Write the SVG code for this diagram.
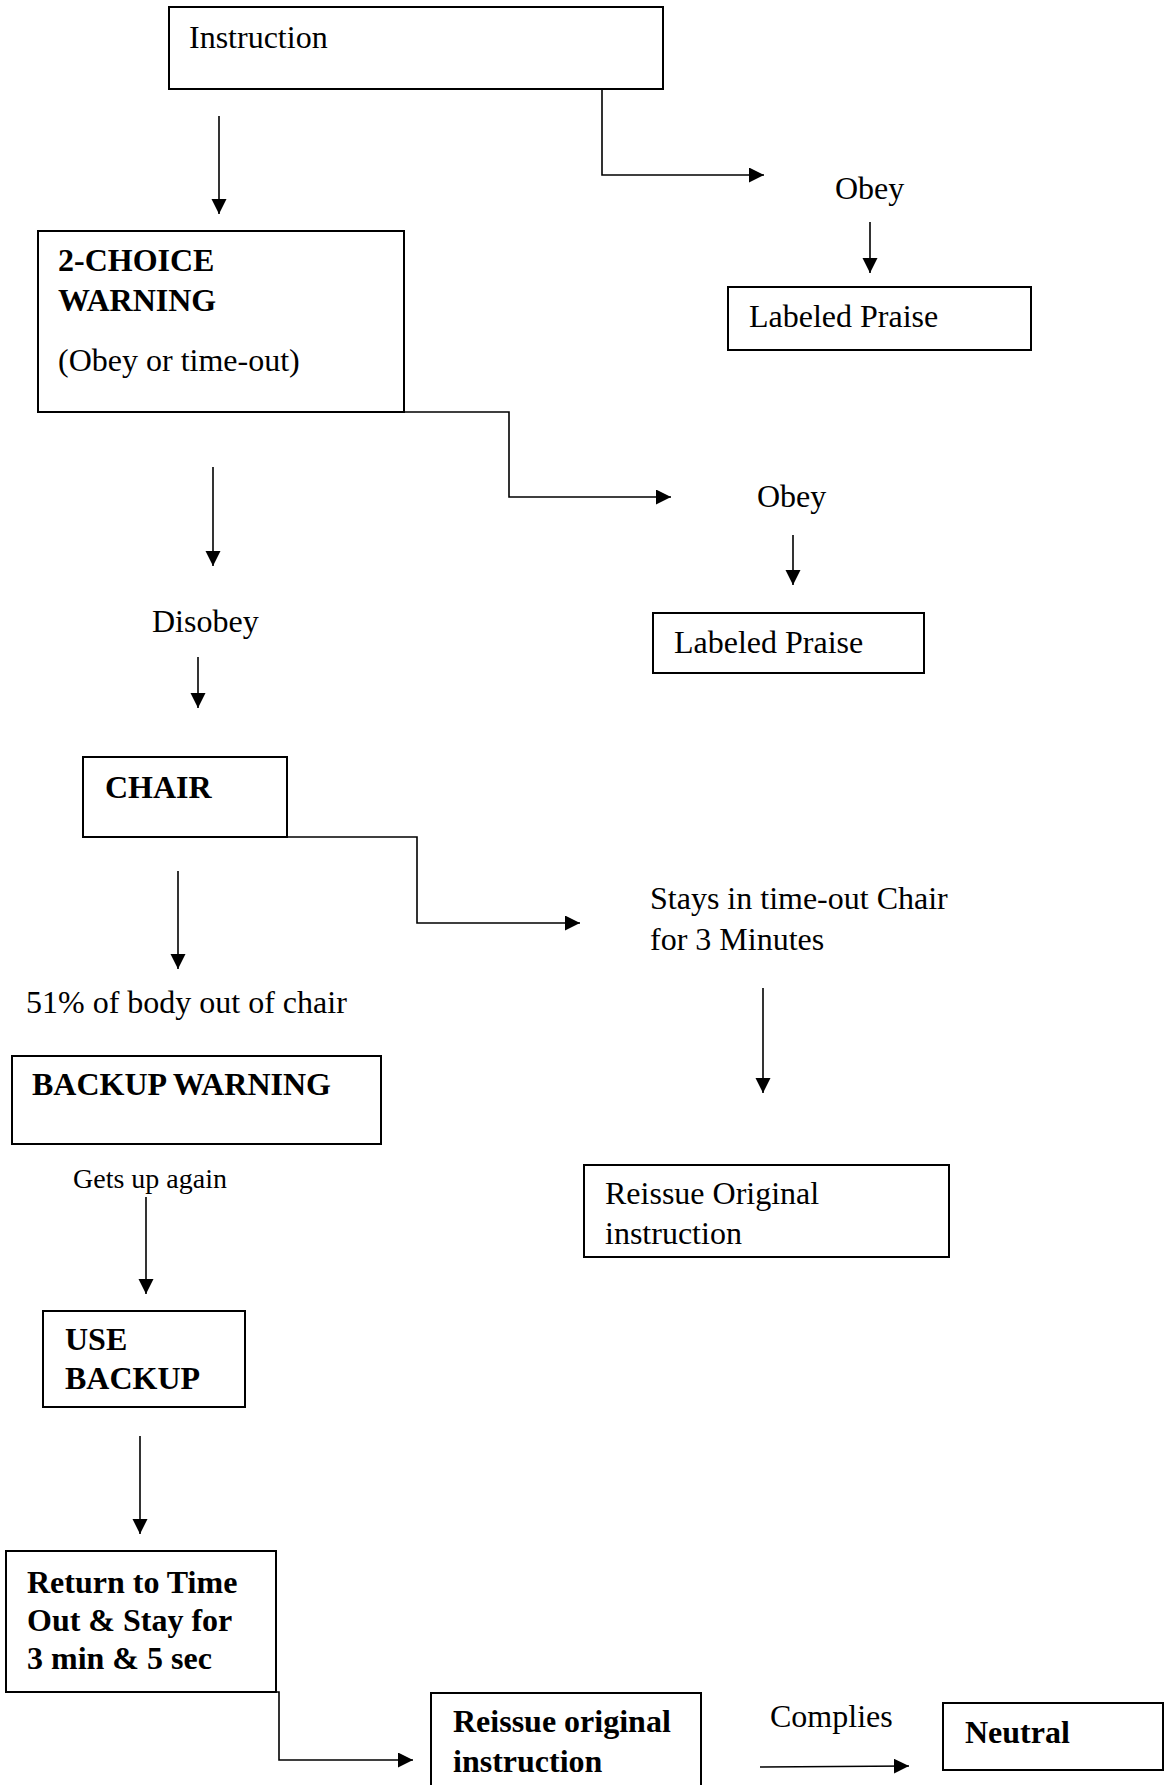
<svg xmlns="http://www.w3.org/2000/svg" width="1169" height="1785" viewBox="0 0 1169 1785">
<style>
.box{fill:#fff;stroke:#000;stroke-width:2}
.t{font-family:"Liberation Serif","Times New Roman",serif;font-size:32px;fill:#000}
.b{font-weight:bold}
.s{font-size:28px}
.c{fill:none;stroke:#000;stroke-width:1.6}
</style>
<defs>
<marker id="ah" markerUnits="userSpaceOnUse" markerWidth="16" markerHeight="16" refX="15" refY="7.5" orient="auto">
<path d="M0,0 L15,7.5 L0,15 z" fill="#000"/>
</marker>
</defs>
<rect width="1169" height="1785" fill="#fff"/>
<g id="instruction"><rect class="box" x="169" y="7" width="494" height="82"/><text class="t" x="189" y="48">Instruction</text></g>
<g id="obey1"><text class="t" x="835" y="199">Obey</text></g>
<g id="praise1"><rect class="box" x="728" y="287" width="303" height="63"/><text class="t" x="749" y="327">Labeled Praise</text></g>
<g id="choice"><rect class="box" x="38" y="231" width="366" height="181"/><text class="t b" x="58" y="271">2-CHOICE</text><text class="t b" x="58" y="311">WARNING</text><text class="t" x="58" y="371">(Obey or time-out)</text></g>
<g id="obey2"><text class="t" x="757" y="507">Obey</text></g>
<g id="praise2"><rect class="box" x="653" y="613" width="271" height="60"/><text class="t" x="674" y="653">Labeled Praise</text></g>
<g id="disobey"><text class="t" x="152" y="632">Disobey</text></g>
<g id="chair"><rect class="box" x="83" y="757" width="204" height="80"/><text class="t b" x="105" y="798">CHAIR</text></g>
<g id="stays"><text class="t" x="650" y="909">Stays in time-out Chair</text><text class="t" x="650" y="950">for 3 Minutes</text></g>
<g id="body"><text class="t" x="26" y="1013">51% of body out of chair</text></g>
<g id="backupwarning"><rect class="box" x="12" y="1056" width="369" height="88"/><text class="t b" x="32" y="1095">BACKUP WARNING</text></g>
<g id="reissue1"><rect class="box" x="584" y="1165" width="365" height="92"/><text class="t" x="605" y="1204">Reissue Original</text><text class="t" x="605" y="1244">instruction</text></g>
<g id="getsup"><text class="t s" x="73" y="1188">Gets up again</text></g>
<g id="usebackup"><rect class="box" x="43" y="1311" width="202" height="96"/><text class="t b" x="65" y="1350">USE</text><text class="t b" x="65" y="1389">BACKUP</text></g>
<g id="return"><rect class="box" x="6" y="1551" width="270" height="141"/><text class="t b" x="27" y="1593">Return to Time</text><text class="t b" x="27" y="1631">Out &amp; Stay for</text><text class="t b" x="27" y="1669">3 min &amp; 5 sec</text></g>
<g id="reissue2"><rect class="box" x="431" y="1693" width="270" height="120"/><text class="t b" x="453" y="1732">Reissue original</text><text class="t b" x="453" y="1772">instruction</text></g>
<g id="complies"><text class="t" x="770" y="1727">Complies</text></g>
<g id="neutral"><rect class="box" x="943" y="1703" width="220" height="67"/><text class="t b" x="965" y="1743">Neutral</text></g>
<g id="connectors">
<path class="c" d="M219,116 V214" marker-end="url(#ah)"/>
<path class="c" d="M442,89 H602 V175 H764" marker-end="url(#ah)"/>
<path class="c" d="M870,222 V273" marker-end="url(#ah)"/>
<path class="c" d="M213,467 V566" marker-end="url(#ah)"/>
<path class="c" d="M349,412 H509 V497 H671" marker-end="url(#ah)"/>
<path class="c" d="M793,535 V585" marker-end="url(#ah)"/>
<path class="c" d="M198,657 V708" marker-end="url(#ah)"/>
<path class="c" d="M257,837 H417 V923 H580" marker-end="url(#ah)"/>
<path class="c" d="M178,871 V969" marker-end="url(#ah)"/>
<path class="c" d="M763,988 V1093" marker-end="url(#ah)"/>
<path class="c" d="M146,1197 V1294" marker-end="url(#ah)"/>
<path class="c" d="M140,1436 V1534" marker-end="url(#ah)"/>
<path class="c" d="M144,1692 H279 V1760 H413" marker-end="url(#ah)"/>
<path class="c" d="M760,1767 L909,1766" marker-end="url(#ah)"/>
</g>
</svg>
